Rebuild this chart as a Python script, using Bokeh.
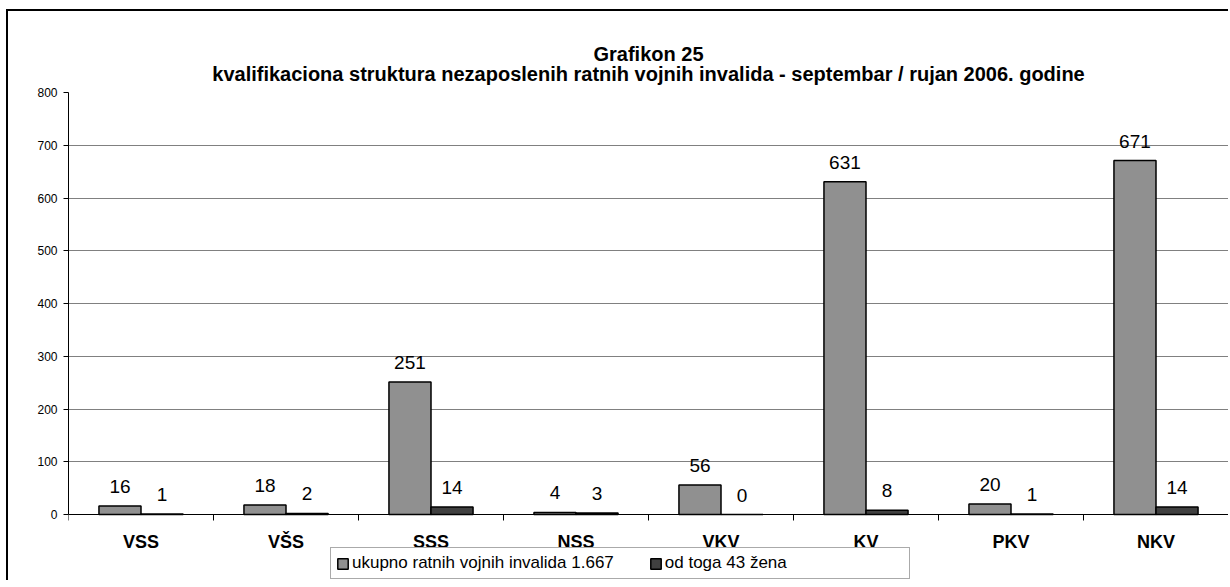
from bokeh.plotting import figure
from bokeh.models import (ColumnDataSource, FixedTicker, Legend, LegendItem, LabelSet,
                          Title, Range1d, CustomJSTickFormatter)
from bokeh.core.properties import value
from bokeh.embed import file_html
from bokeh.resources import INLINE

# ---------------- data ----------------
categories = ["VSS", "VŠS", "SSS", "NSS", "VKV", "KV", "PKV", "NKV"]
ukupno = [16, 18, 251, 4, 56, 631, 20, 671]
zene = [1, 2, 14, 3, 0, 8, 1, 14]
y_ticks = [0, 100, 200, 300, 400, 500, 600, 700, 800]
series_names = ["ukupno ratnih vojnih invalida 1.667", "od toga 43 žena"]
title_lines = ["Grafikon 25",
               "kvalifikaciona struktura nezaposlenih ratnih vojnih invalida - septembar / rujan 2006. godine"]

FONT = "Liberation Sans"
BAR_W = 0.29

# layout: value axis 0..800 spans 422 px; frame continues below 0 to hold axis labels + legend
PLOT_H = 422
FRAME_H = 488
Y_MAX = y_ticks[-1]
Y_MIN = -Y_MAX * (FRAME_H - PLOT_H) / PLOT_H

centers = [i + 0.5 for i in range(len(categories))]
src = ColumnDataSource(dict(
    cat=categories,
    x1=[c - BAR_W / 2 for c in centers],
    x2=[c + BAR_W / 2 for c in centers],
    u=ukupno, z=zene,
    ul=[str(v) for v in ukupno], zl=[str(v) for v in zene],
))

p = figure(frame_width=1160, frame_height=FRAME_H,
           x_range=Range1d(0, len(categories)), y_range=Range1d(Y_MIN, Y_MAX),
           output_backend="svg", toolbar_location=None,
           min_border_left=60, min_border_right=0, min_border_top=81, min_border_bottom=0)
p.outline_line_color = None
p.background_fill_color = "white"
p.border_fill_color = "white"
p.styles = {"margin-left": "6px", "margin-top": "9px",
            "border-left": "2px solid black", "border-top": "2px solid black"}

r1 = p.vbar(x="x1", top="u", bottom=0, width=BAR_W, source=src,
            fill_color="#909090", line_color="black", line_width=1.5)
r2 = p.vbar(x="x2", top="z", bottom=0, width=BAR_W, source=src,
            fill_color="#404040", line_color="black", line_width=1.5)

for col_x, col_y, col_t in (("x1", "u", "ul"), ("x2", "z", "zl")):
    p.add_layout(LabelSet(x=col_x, y=col_y, text=col_t, source=src, text_align="center",
                          text_baseline="alphabetic", y_offset=13, text_font=value(FONT),
                          text_font_size=value("19px"), text_color="black"))

# x axis at value 0: labels at centres, tick marks at category boundaries
xa = p.xaxis[0]
xa.fixed_location = 0
xa.ticker = FixedTicker(ticks=centers, minor_ticks=list(range(len(categories) + 1)))
xa.formatter = CustomJSTickFormatter(args=dict(names=categories),
                                     code="return names[Math.floor(tick)];")
xa.major_tick_line_color = None
xa.minor_tick_line_color = "black"
xa.minor_tick_out = 6
xa.minor_tick_in = 0
xa.axis_line_color = "black"
xa.major_label_text_font = FONT
xa.major_label_text_font_style = "bold"
xa.major_label_text_font_size = "18px"
xa.major_label_text_color = "black"
xa.major_label_standoff = 11

ya = p.yaxis[0]
ya.bounds = (0, Y_MAX)
ya.ticker = FixedTicker(ticks=y_ticks)
ya.major_tick_out = 5
ya.major_tick_in = 0
ya.minor_tick_line_color = None
ya.axis_line_color = "black"
ya.major_tick_line_color = "black"
ya.major_label_text_font = FONT
ya.major_label_text_font_size = "12px"
ya.major_label_text_color = "black"
ya.major_label_standoff = 6

p.xgrid.grid_line_color = None
p.ygrid.grid_line_color = "#808080"
p.ygrid.grid_line_width = 1

# titles (first added sits closest to the plot)
for txt, so in ((title_lines[1], 15), (title_lines[0], -22)):
    p.add_layout(Title(text=txt, align="center", offset=-24, text_font=FONT,
                       text_font_style="bold", text_font_size="20px", text_color="black",
                       standoff=so), "above")

legend = Legend(items=[LegendItem(label=series_names[0], renderers=[r1]),
                       LegendItem(label=series_names[1], renderers=[r2])],
                orientation="horizontal", location=(262, 1),
                glyph_width=13, glyph_height=13, label_text_font=FONT,
                label_text_font_size="17px", label_text_color="black",
                label_standoff=3, label_width=239,
                padding=5, margin=0, spacing=35,
                border_line_color="#555555", border_line_width=1,
                background_fill_color="white", background_fill_alpha=1)
p.add_layout(legend, "center")

open("out.html", "w").write(file_html(p, INLINE))
